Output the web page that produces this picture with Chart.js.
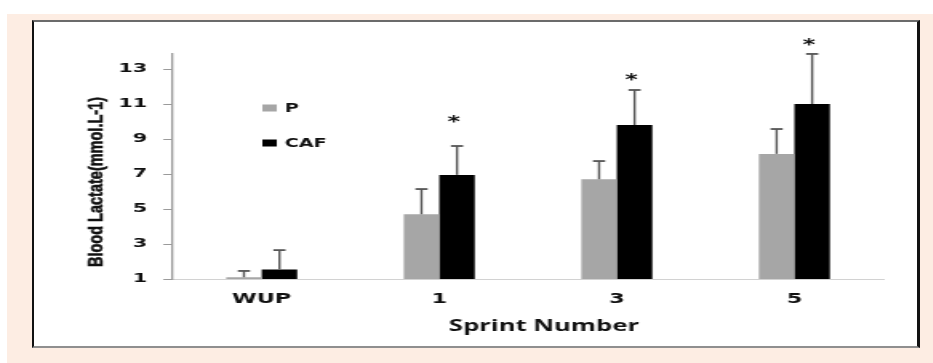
<!DOCTYPE html>
<html>
<head>
<meta charset="utf-8">
<script src="https://cdn.jsdelivr.net/npm/chart.js@4/dist/chart.umd.min.js"></script>
<style>
  html, body { margin: 0; padding: 0; background: #fff; }
  #page { position: relative; width: 933px; height: 363px; overflow: hidden; background: #fff; }
  #panel { position: absolute; left: 7px; top: 14px; width: 926px; height: 349px; background: #fdede3; }
  #frame {
    position: absolute; left: 32px; top: 20px; width: 883px; height: 324px; background: #fff;
    border-left: 2px solid #111; border-right: 3px solid #111;
    border-top: 2px solid #6b6b6b; border-bottom: 2px solid #8f8f8f;
  }
  /* the plot is laid out narrow and widened, like the exported figure */
  #stretch { position: absolute; left: 0; top: 0; width: 583px; height: 363px; transform: scaleX(1.6); transform-origin: 0 0; }
  #c { display: block; width: 583px; height: 363px; }
</style>
</head>
<body>
<div id="page">
  <div id="panel"></div>
  <div id="frame"></div>
  <div id="stretch"><canvas id="c" width="583" height="363"></canvas></div>
</div>
<script>
// Blood lactate (mmol.L-1) after warm-up and sprints 1, 3 and 5
const categories = ['WUP', '1', '3', '5'];
const seriesNames = ['P', 'CAF'];
const placeboMean = [1.1, 4.7, 6.7, 8.15];
const placeboSD = [0.36, 1.44, 1.04, 1.42];
const caffeineMean = [1.55, 6.95, 9.8, 11.0];
const caffeineSD = [1.1, 1.65, 2.0, 2.86];
// level (in mmol.L-1) where the significance asterisk sits, per category
const significanceMarkY = [null, 10.1, 12.5, 14.5];
const yTicks = [1, 3, 5, 7, 9, 11, 13];
const xTitle = 'Sprint Number';
const yTitle = 'Blood Lactate(mmol.L-1)';

const SX = 1.6; // horizontal widening applied to the canvas

const errorBars = {
  id: 'errorBars',
  afterDatasetsDraw(chart) {
    const { ctx } = chart;
    const yScale = chart.scales.y;
    chart.data.datasets.forEach((ds, i) => {
      const meta = chart.getDatasetMeta(i);
      meta.data.forEach((bar, j) => {
        const top = yScale.getPixelForValue(ds.data[j] + ds.sd[j]);
        ctx.save();
        ctx.strokeStyle = '#555';
        ctx.lineWidth = 1.4;
        ctx.beginPath();
        ctx.moveTo(bar.x, bar.y);
        ctx.lineTo(bar.x, top);
        ctx.stroke();
        ctx.lineWidth = 1.8;
        ctx.beginPath();
        ctx.moveTo(bar.x - 3.8, top);
        ctx.lineTo(bar.x + 3.8, top);
        ctx.stroke();
        ctx.restore();
      });
    });
  }
};

const sigMarks = {
  id: 'sigMarks',
  afterDatasetsDraw(chart) {
    const { ctx } = chart;
    const yScale = chart.scales.y;
    const meta = chart.getDatasetMeta(1);
    ctx.save();
    ctx.fillStyle = '#111';
    ctx.font = 'bold 15px "DejaVu Sans"';
    ctx.textAlign = 'center';
    ctx.textBaseline = 'middle';
    significanceMarkY.forEach((v, j) => {
      if (v === null) return;
      ctx.fillText('*', meta.data[j].x - 2, yScale.getPixelForValue(v) + 3);
    });
    ctx.restore();
  }
};

const sideLegend = {
  id: 'sideLegend',
  afterDraw(chart) {
    const { ctx } = chart;
    ctx.save();
    ctx.font = 'bold 12px "DejaVu Sans"';
    ctx.textBaseline = 'middle';
    chart.data.datasets.forEach((ds, i) => {
      const cy = 108 + i * 35;
      ctx.fillStyle = ds.backgroundColor;
      ctx.fillRect(164, cy - 3.5, 9, 7);
      ctx.fillStyle = '#111';
      ctx.fillText(ds.label, 178, cy + 0.5);
    });
    ctx.restore();
  }
};

const axisTitles = {
  id: 'axisTitles',
  afterDraw(chart) {
    const { ctx } = chart;
    ctx.save();
    ctx.fillStyle = '#111';
    ctx.textAlign = 'center';
    ctx.textBaseline = 'middle';
    ctx.font = '700 16px "Open Sans"';
    ctx.fillText(xTitle, 340, 326);
    ctx.restore();

    // vertical title: undo the widening, then set in a tall condensed face
    ctx.save();
    ctx.fillStyle = '#111';
    ctx.strokeStyle = '#111';
    ctx.lineWidth = 0.7;
    ctx.translate(60, 182);
    ctx.scale(1 / SX, 1);
    ctx.rotate(-Math.PI / 2);
    ctx.font = 'bold 21px "Liberation Sans"';
    const w = ctx.measureText(yTitle).width;
    ctx.scale(170 / w, 1);
    ctx.textAlign = 'center';
    ctx.textBaseline = 'middle';
    ctx.fillText(yTitle, 0, 0);
    ctx.strokeText(yTitle, 0, 0);
    ctx.restore();
  }
};

new Chart(document.getElementById('c'), {
  type: 'bar',
  data: {
    labels: categories,
    datasets: [
      { label: seriesNames[0], data: placeboMean, sd: placeboSD, backgroundColor: '#a6a6a6', borderWidth: 0 },
      { label: seriesNames[1], data: caffeineMean, sd: caffeineSD, backgroundColor: '#000000', borderWidth: 0 }
    ]
  },
  options: {
    responsive: false,
    animation: false,
    devicePixelRatio: 1,
    layout: { padding: { top: 53.25, right: 31, left: 0, bottom: 0 } },
    datasets: { bar: { categoryPercentage: 0.4, barPercentage: 1.0 } },
    plugins: { legend: { display: false }, tooltip: { enabled: false } },
    scales: {
      x: {
        grid: { display: false, drawTicks: false },
        border: { display: true, color: '#d2d2d2', width: 1 },
        ticks: { font: { family: 'DejaVu Sans', weight: 'bold', size: 14 }, color: '#111', padding: 12, maxRotation: 0 },
        afterFit(s) { s.height = 84; }
      },
      y: {
        min: 1,
        max: 13.9,
        afterBuildTicks(s) { s.ticks = yTicks.map(v => ({ value: v })); },
        grid: { drawOnChartArea: false, drawTicks: true, tickLength: 6, color: '#9a9a9a', lineWidth: 1 },
        border: { display: true, color: '#9a9a9a', width: 1.3 },
        ticks: { font: { family: 'DejaVu Sans', weight: 'bold', size: 13 }, color: '#111', padding: 10 },
        afterFit(s) { s.width = 108.1; }
      }
    }
  },
  plugins: [errorBars, sigMarks, sideLegend, axisTitles]
});
</script>
</body>
</html>
